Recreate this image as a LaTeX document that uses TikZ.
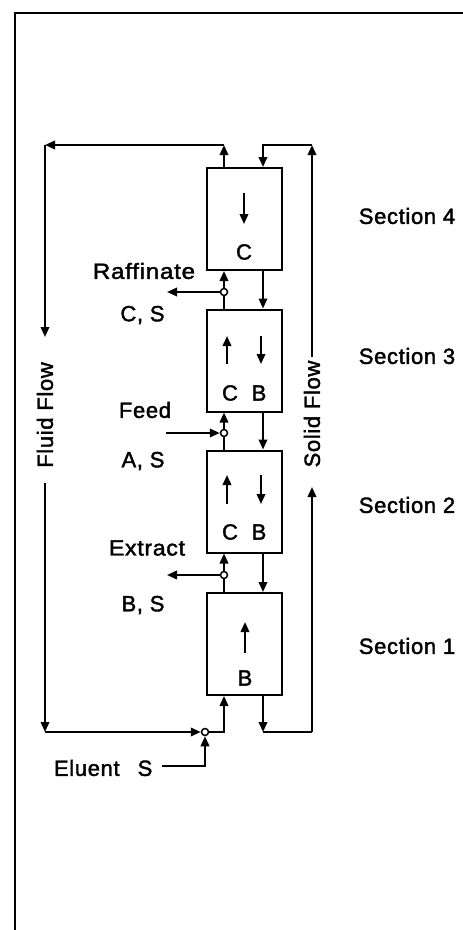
\documentclass[tikz,border=0pt]{standalone}
\usepackage{fontspec}
\setmainfont[LetterSpace=3,FakeBold=1.8]{Liberation Sans}
\usetikzlibrary{arrows.meta}
\begin{document}
\begin{tikzpicture}[x=1pt,y=-1pt, line width=2pt,
  lbl/.style={font=\fontsize{22}{24}\selectfont, inner sep=0pt},
  colbox/.style={draw, minimum width=75pt, minimum height=102pt, inner sep=0pt},
  jn/.style={circle, draw, fill=white, line width=1.5pt, minimum size=7pt, inner sep=0pt},
  >={Triangle[length=10pt,width=8.5pt]}]
\useasboundingbox (0,0) rectangle (463,930);
% frame
\draw (15,930) -- (15,13) -- (463,13);
% column sections
\node[colbox] (b4) at (244.5,219) {};
\node[colbox] (b3) at (244.5,360.5) {};
\node[colbox] (b2) at (244.5,501.5) {};
\node[colbox] (b1) at (244.5,644) {};
% inner arrows and letters
\coordinate (i4a) at (244,193); \coordinate (i4b) at (244,224);
\draw[->] (i4a) -- (i4b);
\node[lbl] (t4) at (244,252) {C};
\coordinate (i3a) at (227,364); \coordinate (i3b) at (227,336);
\coordinate (i3c) at (261,336); \coordinate (i3d) at (261,364);
\draw[->] (i3a) -- (i3b); \draw[->] (i3c) -- (i3d);
\node[lbl] (t3c) at (230,393) {C};
\node[lbl] (t3b) at (259,393) {B};
\coordinate (i2a) at (227,504); \coordinate (i2b) at (227,475);
\coordinate (i2c) at (261,475); \coordinate (i2d) at (261,504);
\draw[->] (i2a) -- (i2b); \draw[->] (i2c) -- (i2d);
\node[lbl] (t2c) at (230,532) {C};
\node[lbl] (t2b) at (259,532) {B};
\coordinate (i1a) at (245,653); \coordinate (i1b) at (245,622);
\draw[->] (i1a) -- (i1b);
\node[lbl] (t1) at (245,678) {B};
% section labels
\node[lbl] (s4) at (407,216) {Section 4};
\node[lbl] (s3) at (407,356) {Section 3};
\node[lbl] (s2) at (407,505) {Section 2};
\node[lbl] (s1) at (407,646) {Section 1};
% junctions
\node[jn] (c3) at (224,292) {};
\node[jn] (c2) at (224,433) {};
\node[jn] (c1) at (224,575) {};
\node[jn] (c0) at (205,732) {};
% port labels
\node[lbl, xscale=1.1] (raf) at (144,271) {Raffinate};
\node[lbl] (rafc) at (142.5,315) {C, S};
\node[lbl] (feed) at (145,410) {Feed};
\node[lbl] (feedc) at (143,461) {A, S};
\node[lbl, xscale=1.05] (ext) at (147,548) {Extract};
\node[lbl] (extc) at (143,605) {B, S};
\node[lbl, anchor=west] (elu) at (53,768) {Eluent\hspace{18pt}S};
% port arrows
\coordinate (ro) at (167,292);
\coordinate (fi) at (166,433);
\coordinate (eo) at (167,575);
\coordinate (el) at (162,766);
\draw[->] (c3) -- (ro);
\draw[->] (fi) -- (c2);
\draw[->] (c1) -- (eo);
\draw[->] (el) -| (c0);
% fluid flow path
\draw (c1 |- b1.north) -- (c1);
\draw[->] (c1) -- (c1 |- b2.south);
\draw (c2 |- b2.north) -- (c2);
\draw[->] (c2) -- (c2 |- b3.south);
\draw (c3 |- b3.north) -- (c3);
\draw[->] (c3) -- (c3 |- b4.south);
\draw[->] (c0) -| (c1 |- b1.south);
\coordinate (ftr) at (224,145);
\coordinate (ftl) at (45,145);
\coordinate (fa) at (45,337);
\coordinate (fb) at (45,483);
\coordinate (fbl) at (45,732);
\node[lbl, rotate=90] (fluid) at (45,415) {Fluid Flow};
\draw[->] (c3 |- b4.north) -- (ftr);
\draw[->] (ftr) -- (ftl);
\draw[->] (ftl) -- (fa);
\draw[->] (fb) -- (fbl);
\draw[->] (fbl) -- (c0);
% solid flow path
\coordinate (stl) at (263,145);
\coordinate (str) at (312,145);
\coordinate (sa) at (312,357);
\coordinate (sb) at (312,487);
\coordinate (sbr) at (312,732);
\coordinate (sbl) at (263,732);
\node[lbl, rotate=90] (solid) at (312,414) {Solid Flow};
\draw[->] (str) -- (stl) -- (stl |- b4.north);
\draw[->] (stl |- b4.south) -- (stl |- b3.north);
\draw[->] (stl |- b3.south) -- (stl |- b2.north);
\draw[->] (stl |- b2.south) -- (stl |- b1.north);
\draw[->] (stl |- b1.south) -- (sbl);
\draw (sbl) -- (sbr);
\draw[->] (sbr) -- (sb);
\draw[->] (sa) -- (str);
\end{tikzpicture}
\end{document}
